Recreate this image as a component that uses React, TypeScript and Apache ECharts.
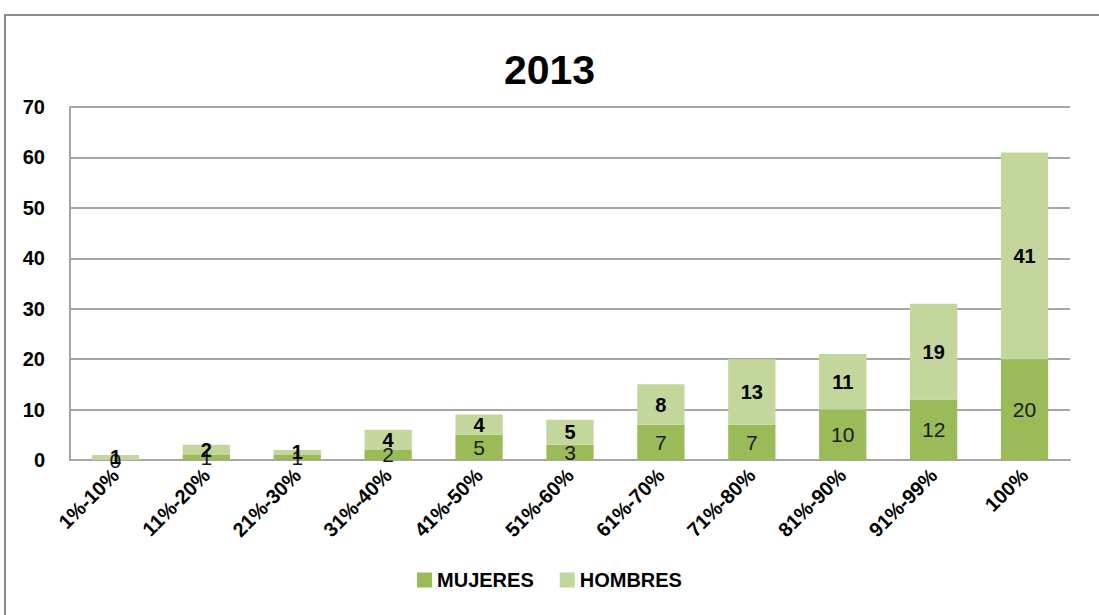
import React, { useEffect, useRef } from "react";
import * as echarts from "echarts";

const categories = ["1%-10%", "11%-20%", "21%-30%", "31%-40%", "41%-50%", "51%-60%", "61%-70%", "71%-80%", "81%-90%", "91%-99%", "100%"];
const mujeres = [0, 1, 1, 2, 5, 3, 7, 7, 10, 12, 20];
const hombres = [1, 2, 1, 4, 4, 5, 8, 13, 11, 19, 41];
const yTicks = [0, 10, 20, 30, 40, 50, 60, 70];

const FONT = "'Liberation Sans', 'Open Sans', sans-serif";

export default function App() {
  const ref = useRef<HTMLDivElement>(null);
  useEffect(() => {
    if (!ref.current) return;
    const chart = echarts.init(ref.current, null, { renderer: "svg" });
    chart.setOption({
      animation: false,
      backgroundColor: "#ffffff",
      title: {
        text: "2013",
        left: "center",
        top: 44,
        textStyle: { fontFamily: FONT, fontSize: 41, fontWeight: "bold", color: "#000" },
      },
      graphic: [
        {
          type: "polyline",
          shape: { points: [[5, 615], [5, 15], [1099, 15]] },
          style: { stroke: "#8c8c8c", lineWidth: 2, fill: "none" },
        },
      ],
      legend: {
        bottom: 20,
        left: "center",
        itemWidth: 15,
        itemHeight: 15,
        itemGap: 26,
        icon: "rect",
        textStyle: { fontFamily: FONT, fontSize: 20, fontWeight: "bold", color: "#000" },
        data: ["MUJERES", "HOMBRES"],
      },
      grid: { left: 70, right: 29, top: 107, bottom: 155, containLabel: false },
      xAxis: {
        type: "category",
        data: categories,
        axisLine: { lineStyle: { color: "#a6a6a6", width: 2 } },
        axisTick: { show: false },
        axisLabel: {
          rotate: 45,
          interval: 0,
          margin: 12,
          fontFamily: FONT,
          fontSize: 20,
          fontWeight: "bold",
          color: "#000",
        },
      },
      yAxis: {
        type: "value",
        min: yTicks[0],
        max: yTicks[yTicks.length - 1],
        interval: 10,
        axisLine: { show: true, lineStyle: { color: "#a6a6a6", width: 2 } },
        axisTick: { show: false },
        splitLine: { lineStyle: { color: "#a6a6a6", width: 2 } },
        axisLabel: {
          margin: 25,
          fontFamily: FONT,
          fontSize: 20,
          fontWeight: "bold",
          color: "#000",
        },
      },
      series: [
        {
          name: "MUJERES",
          type: "bar",
          stack: "total",
          barWidth: "52%",
          data: mujeres,
          itemStyle: { color: "#9bbb59" },
          label: {
            show: true,
            position: "inside",
            fontFamily: FONT,
            fontSize: 21,
            color: "#1a1a1a",
          },
        },
        {
          name: "HOMBRES",
          type: "bar",
          stack: "total",
          barWidth: "52%",
          data: hombres,
          itemStyle: { color: "#c3d69b" },
          label: {
            show: true,
            position: "inside",
            fontFamily: FONT,
            fontSize: 20,
            fontWeight: "bold",
            color: "#000",
          },
        },
      ],
    });
    return () => chart.dispose();
  }, []);
  return (
    <div
      ref={ref}
      style={{ position: "fixed", left: 0, top: 0, width: 1099, height: 615, background: "#fff" }}
    />
  );
}
